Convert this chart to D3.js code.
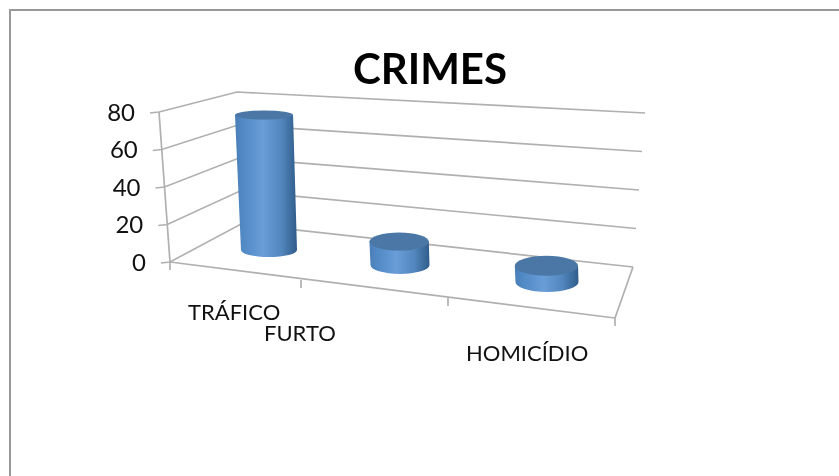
<!DOCTYPE html>
<html>
<head>
<meta charset="utf-8">
<script src="https://cdn.jsdelivr.net/npm/d3@7"></script>
<style>
    html, body { margin: 0; padding: 0; background: #fff; overflow: hidden; }
    text { font-family: Lato, "Open Sans", sans-serif; fill: #111; }
    /* the source picture is a soft upscaled paste */
    #plot { filter: blur(0.45px); }
</style>
</head>
<body>
<svg id="chart" width="839" height="476"></svg>
<script>
// Chart data
var categories = ["TRÁFICO", "FURTO", "HOMICÍDIO"];
var crimeValues = [75, 13, 9];
var yTicks = [0, 20, 40, 60, 80];
var chartTitle = "CRIMES";

var svg = d3.select("#chart");
var gridColor = "#b0b0b0";

// frame of the picture
svg.append("path")
    .attr("d", "M10,476V10H839")
    .attr("fill", "none")
    .attr("stroke", "#999")
    .attr("stroke-width", 2);

var plot = svg.append("g").attr("id", "plot");

// the four edges of the 3d box, as scales from value to pixel
var frontX = d3.scaleLinear().domain([0, 80]).range([170, 159]);
var frontY = d3.scaleLinear().domain([0, 80]).range([262, 112]);
var backLeftX = d3.scaleLinear().domain([0, 80]).range([241, 237]);
var backLeftY = d3.scaleLinear().domain([0, 80]).range([224, 92]);
var backRightX = d3.scaleLinear().domain([0, 80]).range([633, 645]);
var backRightY = d3.scaleLinear().domain([0, 80]).range([267, 113]);

// floor front edge, by category boundary
var floorX = d3.scaleLinear().domain([0, 1, 2, 3]).range([170, 301, 448, 615]);
var floorY = d3.scaleLinear().domain([0, 1, 2, 3]).range([262, 280, 298, 318]);

// where each cylinder stands on the floor (perspective makes these uneven)
var barX = d3.scaleLinear().domain([0, 1, 2]).range([269, 400, 547]);
var barBase = d3.scaleLinear().domain([0, 1, 2]).range([250, 265, 282]);
var barRx = d3.scaleLinear().domain([0, 1, 2]).range([28, 29.5, 31.5]);
var barRy = d3.scaleLinear().domain([0, 1, 2]).range([7, 9, 10]);
var barTaper = d3.scaleLinear().domain([0, 80]).range([0, -5.3]);
var barGrow = d3.scaleLinear().domain([0, 80]).range([0, 1.1]);
var barHeight = d3.scaleLinear().domain([0, 80]).range([0, 144]);

var lines = plot.append("g")
    .attr("fill", "none")
    .attr("stroke", gridColor)
    .attr("stroke-width", 1.7);

// gridlines: left wall then back wall
yTicks.forEach(function (t) {
    lines.append("polyline")
        .attr("points", [
            [frontX(t) - 9, frontY(t) + 1],
            [frontX(t), frontY(t)],
            [backLeftX(t), backLeftY(t)],
            [backRightX(t), backRightY(t)]
        ].join(" "));
});

// value axis and back-right corner of the floor
lines.append("line")
    .attr("x1", frontX(0)).attr("y1", frontY(0))
    .attr("x2", frontX(80)).attr("y2", frontY(80));

lines.append("line")
    .attr("x1", floorX(0)).attr("y1", floorY(0))
    .attr("x2", floorX(3)).attr("y2", floorY(3));

lines.append("line")
    .attr("x1", floorX(3)).attr("y1", floorY(3))
    .attr("x2", backRightX(0)).attr("y2", backRightY(0));

d3.range(4).forEach(function (i) {
    lines.append("line")
        .attr("x1", floorX(i)).attr("y1", floorY(i))
        .attr("x2", floorX(i)).attr("y2", floorY(i) + 8);
});

// cylinder shading
var grad = svg.append("defs").append("linearGradient")
    .attr("id", "side")
    .attr("x1", 0).attr("x2", 1).attr("y1", 0).attr("y2", 0);
grad.selectAll("stop")
    .data([[0, "#4a7fb8"], [0.12, "#5189c4"], [0.45, "#689dd8"], [0.75, "#5286bd"], [1, "#305c8a"]])
    .enter().append("stop")
    .attr("offset", function (d) { return d[0]; })
    .attr("stop-color", function (d) { return d[1]; });

var bars = plot.append("g").selectAll("g")
    .data(crimeValues)
    .enter().append("g");

bars.append("path")
    .attr("fill", "url(#side)")
    .attr("d", function (d, i) {
        var cx = barX(i), base = barBase(i), rx = barRx(i), ry = barRy(i);
        var top = base - barHeight(d), dx = barTaper(d), grow = barGrow(d);
        return "M" + (cx - rx + dx - grow) + "," + top +
            "L" + (cx - rx) + "," + base +
            "A" + rx + "," + ry + " 0 0 0 " + (cx + rx) + "," + base +
            "L" + (cx + rx + dx + grow) + "," + top + "Z";
    });

bars.append("ellipse")
    .attr("cx", function (d, i) { return barX(i) + barTaper(d); })
    .attr("cy", function (d, i) { return barBase(i) - barHeight(d); })
    .attr("rx", function (d, i) { return barRx(i) + barGrow(d); })
    .attr("ry", function (d, i) { return d > 40 ? 4.5 : barRy(i); })
    .attr("fill", "#4a77a5");

// tick labels sit left of the slanted axis
plot.append("g").selectAll("text")
    .data(yTicks)
    .enter().append("text")
    .attr("x", function (d) { return frontX(d) - 24; })
    .attr("y", function (d) { return frontY(d) + 2.5; })
    .attr("text-anchor", "end")
    .attr("dominant-baseline", "middle")
    .attr("font-size", 24)
    .text(function (d) { return d; });

// excel staggered the labels, so they don't follow the ticks
var labelLeft = [188, 264, 466];
var labelBase = [320, 341, 361];
plot.append("g").selectAll("text")
    .data(categories)
    .enter().append("text")
    .attr("x", function (d, i) { return labelLeft[i]; })
    .attr("y", function (d, i) { return labelBase[i]; })
    .attr("font-size", 22)
    .text(function (d) { return d; });

plot.append("text")
    .attr("x", 430)
    .attr("y", 84)
    .attr("text-anchor", "middle")
    .attr("font-size", 42)
    .attr("font-weight", 700)
    .style("fill", "#000")
    .text(chartTitle);
</script>
</body>
</html>
